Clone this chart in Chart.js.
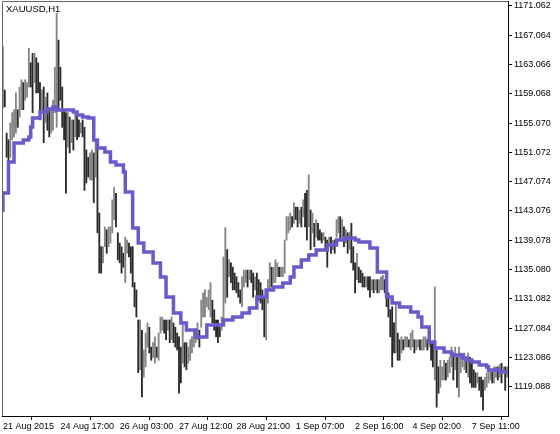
<!DOCTYPE html>
<html>
<head>
<meta charset="utf-8">
<title>XAUUSD,H1</title>
<script src="https://cdn.jsdelivr.net/npm/chart.js"></script>
<style>
  html, body { margin: 0; padding: 0; background: #fff; }
  #chart { display: block; }
</style>
</head>
<body>
<canvas id="chart" width="560" height="434"></canvas>
<script>
const symbolTitle = 'XAUUSD,H1';

// hourly bars, high / low
const highs = [
  1165.5, 1159.6, 1153.7, 1152.8, 1155.1, 1156.5, 1156.9, 1159.2, 1156.9, 1160.0,
  1161.0, 1160.6, 1161.0, 1160.6, 1165.3, 1163.3, 1164.6, 1164.6, 1164.0, 1163.3,
  1160.6, 1159.6, 1160.0, 1158.6, 1159.2, 1156.9, 1156.9, 1158.2, 1162.7, 1170.1,
  1166.4, 1162.7, 1160.0, 1156.9, 1156.5, 1156.5, 1155.9, 1155.5, 1155.5, 1156.5,
  1156.5, 1155.5, 1155.1, 1155.5, 1154.5, 1151.4, 1150.4, 1151.0, 1151.4, 1151.0,
  1152.8, 1152.4, 1142.8, 1138.2, 1138.2, 1140.9, 1140.5, 1140.9, 1140.9, 1144.6,
  1146.3, 1145.5, 1140.1, 1138.7, 1138.2, 1137.3, 1139.5, 1139.1, 1138.7, 1138.2,
  1138.2, 1133.3, 1132.3, 1128.2, 1128.2, 1126.8, 1124.1, 1126.4, 1127.8, 1127.2,
  1124.5, 1125.1, 1125.9, 1124.5, 1126.4, 1128.6, 1128.6, 1128.2, 1128.2, 1128.2,
  1128.2, 1128.6, 1127.8, 1127.2, 1126.4, 1125.9, 1124.5, 1127.8, 1125.1, 1125.1,
  1124.5, 1125.5, 1125.9, 1126.8, 1126.4, 1127.8, 1126.8, 1130.9, 1131.9, 1132.3,
  1131.3, 1132.3, 1133.3, 1130.9, 1129.6, 1128.2, 1128.2, 1127.2, 1128.6, 1136.8,
  1140.8, 1137.8, 1136.4, 1136.0, 1135.4, 1134.6, 1134.1, 1133.3, 1132.3, 1134.1,
  1135.0, 1135.0, 1135.0, 1135.0, 1135.0, 1134.6, 1134.1, 1134.6, 1133.7, 1133.3,
  1132.3, 1131.3, 1131.9, 1133.7, 1136.0, 1135.4, 1135.4, 1136.4, 1136.0, 1135.4,
  1135.4, 1135.4, 1139.1, 1142.3, 1142.3, 1142.8, 1142.3, 1144.2, 1143.6, 1143.6,
  1143.2, 1143.6, 1144.6, 1145.5, 1145.9, 1148.0, 1143.2, 1142.8, 1141.4, 1141.9,
  1141.4, 1140.5, 1140.1, 1140.1, 1139.5, 1139.1, 1139.5, 1139.5, 1139.1, 1139.1,
  1141.9, 1142.3, 1142.3, 1141.9, 1140.9, 1140.5, 1140.1, 1140.2, 1141.4, 1138.2,
  1136.0, 1137.3, 1135.4, 1135.0, 1134.6, 1134.1, 1134.1, 1134.1, 1134.1, 1133.7,
  1133.7, 1133.7, 1133.7, 1133.7, 1134.1, 1134.3, 1133.7, 1133.3, 1131.9, 1129.6,
  1130.0, 1127.8, 1130.5, 1126.4, 1125.5, 1125.9, 1125.5, 1125.9, 1125.9, 1125.5,
  1126.4, 1126.8, 1125.5, 1125.5, 1125.5, 1125.5, 1125.5, 1125.9, 1125.9, 1125.5,
  1126.4, 1125.1, 1125.1, 1132.7, 1124.1, 1121.8, 1122.7, 1121.8, 1122.7, 1122.3,
  1122.7, 1123.1, 1124.5, 1123.7, 1124.5, 1123.1, 1124.5, 1123.7, 1123.1, 1123.7,
  1122.7, 1123.7, 1123.1, 1122.3, 1121.4, 1121.0, 1121.0, 1120.4, 1120.4, 1120.0,
  1120.4, 1121.0, 1121.4, 1121.4, 1121.1, 1121.8, 1121.8, 1121.8, 1122.1, 1122.3,
  1121.8, 1121.8, 1121.8
];
const lows = [
  1157.1, 1157.3, 1150.4, 1149.1, 1150.4, 1152.8, 1153.2, 1153.7, 1154.5, 1155.9,
  1156.9, 1156.9, 1158.2, 1158.6, 1160.0, 1160.0, 1156.5, 1160.6, 1159.2, 1159.2,
  1155.5, 1156.9, 1152.4, 1155.1, 1154.1, 1153.2, 1153.7, 1154.1, 1156.5, 1154.5,
  1156.9, 1158.2, 1154.5, 1152.8, 1145.5, 1151.8, 1151.0, 1152.4, 1151.4, 1153.2,
  1152.8, 1153.2, 1153.7, 1153.2, 1145.9, 1146.9, 1147.7, 1147.3, 1147.3, 1144.2,
  1147.7, 1140.1, 1134.6, 1134.6, 1136.0, 1138.2, 1137.3, 1138.2, 1138.7, 1140.1,
  1141.9, 1140.9, 1136.4, 1136.0, 1134.6, 1135.4, 1133.3, 1137.3, 1136.8, 1134.6,
  1132.7, 1130.0, 1128.6, 1121.0, 1121.4, 1117.7, 1120.4, 1121.8, 1124.5, 1123.7,
  1122.7, 1123.1, 1122.3, 1123.1, 1122.7, 1126.4, 1126.8, 1126.4, 1125.5, 1126.8,
  1125.1, 1125.5, 1125.1, 1124.5, 1124.1, 1118.2, 1119.6, 1122.3, 1121.8, 1121.4,
  1122.3, 1122.7, 1123.7, 1124.5, 1125.1, 1125.5, 1124.5, 1127.2, 1128.6, 1128.6,
  1130.0, 1129.6, 1128.6, 1127.8, 1126.8, 1125.9, 1125.1, 1125.9, 1126.8, 1128.2,
  1130.5, 1131.3, 1134.1, 1133.3, 1132.3, 1132.3, 1131.9, 1131.3, 1130.5, 1130.0,
  1132.7, 1133.3, 1132.7, 1133.7, 1133.3, 1131.3, 1132.3, 1131.3, 1130.9, 1130.5,
  1129.6, 1125.9, 1125.5, 1130.5, 1132.3, 1132.7, 1133.3, 1133.3, 1134.1, 1134.1,
  1134.1, 1134.1, 1134.6, 1139.1, 1140.1, 1140.5, 1140.9, 1141.4, 1141.9, 1140.9,
  1141.4, 1140.9, 1142.3, 1140.9, 1139.1, 1140.9, 1137.8, 1140.1, 1138.2, 1139.5,
  1139.1, 1139.1, 1138.7, 1139.1, 1137.8, 1135.4, 1138.2, 1137.3, 1137.8, 1137.3,
  1139.5, 1140.1, 1139.1, 1139.5, 1138.2, 1138.7, 1137.3, 1137.8, 1136.0, 1135.0,
  1131.9, 1133.7, 1133.3, 1133.3, 1132.7, 1132.7, 1132.7, 1132.3, 1131.3, 1132.3,
  1131.9, 1132.3, 1131.9, 1131.9, 1132.3, 1132.3, 1131.9, 1130.0, 1128.6, 1125.9,
  1121.8, 1123.7, 1123.7, 1122.7, 1122.7, 1123.7, 1124.1, 1124.5, 1124.5, 1124.5,
  1124.1, 1124.5, 1123.7, 1124.1, 1124.5, 1124.1, 1124.1, 1124.1, 1124.5, 1124.1,
  1124.5, 1122.7, 1121.8, 1120.0, 1116.3, 1118.2, 1119.0, 1120.0, 1120.0, 1120.0,
  1120.4, 1121.0, 1121.8, 1120.0, 1121.4, 1119.0, 1117.7, 1121.0, 1121.8, 1121.4,
  1121.0, 1120.4, 1119.6, 1119.0, 1119.0, 1119.0, 1119.6, 1118.6, 1117.7, 1115.9,
  1118.6, 1119.0, 1119.6, 1120.0, 1119.6, 1119.6, 1120.4, 1120.0, 1120.4, 1119.6,
  1121.0, 1118.6, 1120.4
];

// moving average line: bar index where the value changes, and the value
const maIndex = [0, 3, 6, 11, 14, 15, 16, 20, 24, 27, 29, 38, 40, 43, 46, 49, 51, 55, 58, 61,
  65, 66, 70, 73, 76, 81, 85, 88, 92, 96, 99, 104, 110, 119, 124, 129, 133, 137, 142, 146,
  151, 155, 157, 161, 165, 169, 175, 180, 184, 190, 192, 198, 202, 207, 210, 214, 220, 224, 226, 230,
  233, 238, 242, 248, 250, 253, 257, 261, 262, 268, 272];
const maValue = [1142.94, 1145.53, 1149.76, 1152.36, 1152.77, 1153.18, 1154.54, 1155.77, 1156.59, 1157.00,
  1157.27, 1156.86, 1156.59, 1156.18, 1155.91, 1155.77, 1152.77, 1151.68, 1151.13, 1149.76,
  1149.35, 1148.40, 1145.67, 1140.75, 1138.71, 1137.48, 1135.98, 1134.06, 1131.33, 1129.15,
  1127.78, 1126.83, 1125.87, 1127.51, 1128.19, 1128.60, 1129.15, 1129.83, 1131.33, 1132.29,
  1132.70, 1133.25, 1134.06, 1135.43, 1136.38, 1137.07, 1137.75, 1138.43, 1139.12, 1139.39,
  1139.12, 1138.84, 1138.02, 1134.75, 1131.33, 1130.51, 1129.97, 1129.29, 1128.60, 1127.24,
  1125.19, 1124.37, 1123.83, 1123.42, 1123.01, 1122.73, 1122.46, 1122.05, 1121.78, 1121.37,
  1121.09];

const yTickValues = [1171.062, 1167.064, 1163.066, 1159.068, 1155.070, 1151.072, 1147.074,
  1143.076, 1139.078, 1135.080, 1131.082, 1127.084, 1123.086, 1119.088];
const xTickIndex = [0, 31, 63, 95, 126, 158, 190, 221, 253];
const xTickLabels = ['21 Aug 2015', '24 Aug 17:00', '26 Aug 03:00', '27 Aug 12:00',
  '28 Aug 21:00', '1 Sep 07:00', '2 Sep 16:00', '4 Sep 02:00', '7 Sep 11:00'];

const FONT = { family: '"Liberation Sans", Arial, sans-serif', size: 9 };

const barData = highs.map((h, i) => ({ x: i, y: [lows[i], h] }));
const barColors = highs.map((h, i) => {
  if (i === 0) return '#858585';
  const mid = (h + lows[i]) / 2;
  const prevMid = (highs[i - 1] + lows[i - 1]) / 2;
  return mid < prevMid ? '#2a2a2a' : '#858585';
});
const maData = maIndex.map((idx, i) => ({ x: idx, y: maValue[i] }));

// frame + symbol caption
const framePlugin = {
  id: 'frame',
  afterDatasetsDraw(chart) {
    const { ctx, chartArea: a } = chart;
    ctx.save();
    ctx.strokeStyle = '#666';
    ctx.lineWidth = 1;
    ctx.beginPath();
    ctx.moveTo(a.left + 0.5, a.bottom);
    ctx.lineTo(a.left + 0.5, a.top + 0.5);
    ctx.lineTo(a.right, a.top + 0.5);
    ctx.stroke();
    ctx.fillStyle = '#000';
    ctx.font = '9.5px "Liberation Sans", Arial, sans-serif';
    ctx.textBaseline = 'middle';
    ctx.fillText(symbolTitle, a.left + 4, a.top + 8);
    ctx.restore();
  }
};

new Chart(document.getElementById('chart'), {
  type: 'bar',
  data: {
    datasets: [
      {
        type: 'line',
        label: 'MA',
        data: maData,
        stepped: 'after',
        borderColor: '#6a5acd',
        borderWidth: 3.5,
        pointRadius: 0,
        fill: false,
        order: 0
      },
      {
        label: 'XAUUSD',
        data: barData,
        backgroundColor: barColors,
        borderWidth: 0,
        barThickness: 1.2,
        grouped: false,
        order: 1
      }
    ]
  },
  options: {
    responsive: false,
    animation: false,
    devicePixelRatio: 1,
    layout: { padding: { top: 1, left: 2, right: 0, bottom: 0 } },
    plugins: {
      legend: { display: false },
      tooltip: { enabled: false }
    },
    scales: {
      x: {
        type: 'linear',
        offset: false,
        min: -0.5,
        max: 272.5,
        afterBuildTicks: function(scale) {
          scale.ticks = xTickIndex.map(v => ({ value: v }));
        },
        afterFit: function(scale) {
          scale.height = 18;
          scale.paddingLeft = 0;
          scale.paddingRight = 0;
        },
        ticks: {
          autoSkip: false,
          maxRotation: 0,
          align: 'start',
          padding: 1,
          color: '#000',
          font: FONT,
          callback: function(value) {
            const k = xTickIndex.indexOf(value);
            return k >= 0 ? xTickLabels[k] : '';
          }
        },
        grid: {
          display: true,
          drawOnChartArea: false,
          drawTicks: true,
          tickLength: 4,
          color: '#000'
        },
        border: { display: true, color: '#000', width: 1 }
      },
      y: {
        position: 'right',
        min: 1115.09,
        max: 1171.74,
        afterBuildTicks: function(scale) {
          scale.ticks = yTickValues.map(v => ({ value: v }));
        },
        afterFit: function(scale) {
          scale.width = 52;
          scale.paddingTop = 0;
          scale.paddingBottom = 0;
        },
        ticks: {
          padding: 2,
          color: '#000',
          font: FONT,
          callback: function(value) {
            return value.toFixed(3);
          }
        },
        grid: {
          display: true,
          drawOnChartArea: false,
          drawTicks: true,
          tickLength: 4,
          color: '#000'
        },
        border: { display: true, color: '#000', width: 1 }
      }
    }
  },
  plugins: [framePlugin]
});
</script>
</body>
</html>
